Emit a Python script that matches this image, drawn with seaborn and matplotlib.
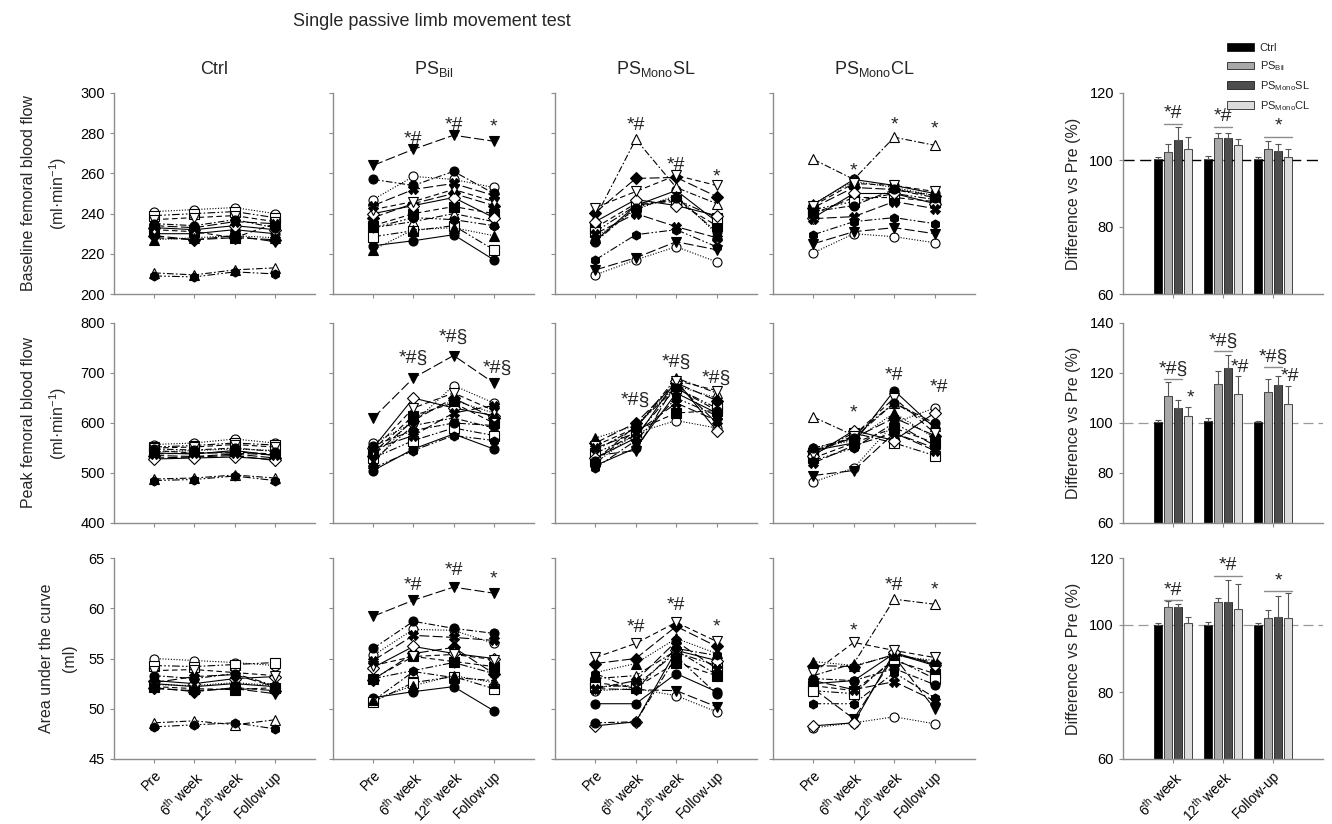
import numpy as np
import pandas as pd
import matplotlib
matplotlib.use("Agg")
import matplotlib.pyplot as plt
import seaborn as sns

# ---------------- data ----------------
timepoints = ["Pre", "6$^{th}$ week", "12$^{th}$ week", "Follow-up"]
bar_times = ["6$^{th}$ week", "12$^{th}$ week", "Follow-up"]
groups = ["Ctrl", "PS$_{Bil}$", "PS$_{Mono}$SL", "PS$_{Mono}$CL"]
row_labels = ["Baseline femoral blood flow\n(ml·min$^{-1}$)",
              "Peak femoral blood flow\n(ml·min$^{-1}$)",
              "Area under the curve\n(ml)"]

# subject values (Pre, 6th, 12th, Follow-up)
ctrl_base = [[230, 230, 232, 230], [241, 242, 243, 240], [228, 227, 229, 226], [210.5, 209.5, 212, 213],
             [232, 231, 228, 235], [239, 240, 241, 238], [229, 227, 228, 227], [233, 232, 234, 232],
             [227, 228, 229, 228], [237, 238, 239, 236], [209, 208.5, 211, 210], [235, 234, 237, 233],
             [234, 233, 236, 235]]
ctrl_peak = [[540, 538, 545, 535], [557, 560, 568, 560], [530, 532, 535, 525], [488, 490, 496, 490],
             [545, 540, 542, 538], [552, 555, 560, 556], [535, 533, 538, 530], [528, 530, 532, 527],
             [542, 545, 548, 545], [550, 552, 557, 552], [485, 487, 494, 485], [548, 546, 550, 543],
             [538, 540, 540, 536]]
ctrl_auc = [[52.5, 52.2, 52.5, 52.2], [55.0, 54.8, 54.6, 54.3], [52.0, 51.8, 52.0, 51.5], [48.6, 48.8, 48.4, 48.9],
            [52.2, 52.0, 51.9, 52.1], [54.3, 54.2, 54.4, 54.6], [52.1, 51.7, 52.1, 51.8], [52.8, 52.5, 53.0, 53.2],
            [52.4, 52.3, 52.6, 52.3], [53.8, 53.9, 53.6, 53.3], [48.2, 48.4, 48.6, 48.0], [53.3, 53.0, 53.5, 52.3],
            [52.6, 53.2, 53.4, 52.2]]

bil_base = [[224, 226.5, 229.5, 217], [247, 258.5, 257, 253], [264, 272, 279, 276], [233, 236, 240, 236],
            [234, 240, 243.5, 240], [228.5, 231.5, 234, 222], [238, 245, 250, 244], [240, 244, 248, 238],
            [222, 232, 233, 229], [242, 246, 252, 246], [233, 238, 237, 234], [257, 254, 261, 250],
            [244, 252, 255, 249]]
bil_peak = [[505, 548, 578, 548], [560, 600, 675, 640], [610, 690, 735, 680], [525, 595, 610, 590],
            [540, 615, 640, 600], [530, 565, 590, 575], [535, 605, 650, 610], [550, 650, 630, 615],
            [520, 610, 645, 620], [545, 630, 660, 625], [510, 545, 575, 565], [555, 585, 600, 595],
            [548, 575, 620, 635]]
bil_auc = [[51.1, 51.7, 52.2, 49.8], [55.3, 57.9, 57.8, 56.5], [59.2, 60.8, 62.1, 61.5], [50.8, 53.7, 53.1, 52.8],
           [53.0, 55.2, 54.7, 54.2], [50.7, 52.6, 53.2, 52.0], [52.9, 55.5, 56.1, 53.5], [54.1, 56.2, 55.5, 55.0],
           [50.9, 52.3, 53.3, 52.6], [54.3, 55.2, 55.4, 54.9], [53.0, 53.8, 54.6, 53.5], [56.0, 58.7, 58.0, 57.5],
           [54.8, 57.3, 57.1, 56.8]]

sl_base = [[226.5, 244, 251.5, 236], [209.5, 217, 223.5, 216], [212, 218, 226, 222], [238, 277, 253, 245],
           [233, 245, 246, 234], [231, 244, 247, 238], [240.5, 257.5, 258, 248.5], [236, 247, 244, 239],
           [228, 242, 249, 230], [243, 251, 259, 254], [217, 229.5, 232, 223.5], [226, 243, 248, 231],
           [230, 240, 233.5, 228]]
sl_peak = [[515, 550, 660, 620], [520, 580, 605, 590], [535, 545, 680, 600], [545, 590, 690, 660],
           [525, 585, 620, 625], [540, 575, 670, 630], [560, 600, 680, 645], [530, 570, 685, 585],
           [570, 595, 675, 650], [555, 590, 685, 665], [510, 565, 650, 615], [525, 595, 670, 625],
           [550, 580, 640, 605]]
sl_auc = [[50.5, 50.5, 53.5, 51.7], [51.8, 52.0, 51.3, 49.7], [52.0, 51.9, 51.8, 50.2], [53.0, 53.3, 55.8, 53.4],
          [52.6, 52.1, 54.6, 53.3], [52.2, 52.3, 55.6, 54.3], [54.5, 55.0, 58.2, 56.2], [48.3, 48.7, 55.8, 54.8],
          [53.6, 54.5, 57.0, 55.5], [55.1, 56.5, 58.6, 56.7], [53.5, 51.9, 56.0, 55.3], [48.6, 48.7, 55.2, 51.5],
          [52.0, 52.8, 56.7, 54.0]]

cl_base = [[244.5, 257, 254, 250], [220.5, 230, 228.5, 225.5], [225, 231, 233, 230], [267, 257, 278, 274],
           [240, 248, 248, 246], [242, 246, 250, 247], [243, 253, 252, 249], [238, 250, 250, 245],
           [245, 256, 253, 249], [244, 255, 254, 251], [229.5, 236, 238, 235], [241, 244, 252, 248],
           [237.5, 238.5, 246, 242.5]]
cl_peak = [[545, 560, 665, 590], [482, 510, 600, 630], [495, 505, 580, 550], [612, 575, 640, 595],
           [530, 560, 590, 560], [540, 580, 560, 535], [545, 570, 610, 575], [535, 585, 565, 620],
           [550, 565, 620, 570], [538, 575, 650, 580], [525, 550, 600, 555], [550, 570, 640, 600],
           [520, 555, 580, 545]]
cl_auc = [[52.5, 52.8, 55.5, 54.3], [48.1, 48.6, 49.2, 48.5], [52.0, 49.0, 55.2, 50.0], [53.3, 54.5, 60.9, 60.4],
          [52.3, 51.8, 54.8, 53.5], [51.8, 51.5, 55.0, 53.0], [54.3, 54.2, 55.4, 54.6], [48.3, 48.6, 55.6, 54.4],
          [54.7, 54.3, 55.3, 54.8], [53.6, 56.6, 55.8, 55.1], [50.5, 50.5, 53.6, 51.1], [53.0, 52.8, 54.0, 52.4],
          [52.8, 51.9, 52.7, 50.8]]

# significance marks on individual panels: (time index, text, value)
sig_base = [[], [(1, "*#", 277), (2, "*#", 284), (3, "*", 283)],
            [(1, "*#", 284), (2, "*#", 264), (3, "*", 258)],
            [(1, "*", 261), (2, "*", 284), (3, "*", 282)]]
sig_peak = [[], [(1, "*#§", 730), (2, "*#§", 772), (3.1, "*#§", 710)],
            [(1, "*#§", 646), (2, "*#§", 722), (3, "*#§", 690)],
            [(1, "*", 620), (2, "*#", 696), (3.1, "*#", 670)]]
sig_auc = [[], [(1, "*#", 62.3), (2, "*#", 63.8), (3, "*", 62.9)],
           [(1, "*#", 58.1), (2, "*#", 60.3), (3, "*", 58.1)],
           [(1, "*", 57.7), (2, "*#", 62.3), (3, "*", 61.8)]]

# bar charts: % difference vs Pre (6th, 12th, Follow-up) per group
bar_base = [[100.3, 100.4, 100.3], [102.5, 106.6, 103.2], [106.0, 106.6, 102.7], [103.3, 104.6, 101.0]]
err_base = [[0.5, 0.8, 0.6], [2.3, 1.4, 2.6], [3.8, 1.4, 2.1], [3.5, 1.6, 2.3]]
bar_peak = [[100.3, 100.7, 100.3], [111.0, 115.8, 112.5], [106.0, 122.0, 115.4], [103.0, 111.7, 107.7]]
err_peak = [[1.0, 1.2, 0.6], [5.3, 5.2, 5.0], [3.2, 5.3, 3.6], [3.5, 7.0, 7.3]]
bar_auc = [[100.0, 100.0, 100.0], [105.3, 107.0, 102.2], [105.5, 106.8, 102.4], [100.5, 104.9, 102.2]]
err_auc = [[0.5, 0.8, 0.7], [2.0, 1.1, 2.2], [0.9, 6.5, 6.2], [1.9, 7.2, 7.3]]

# significance lines on bar charts: (time index, first group, last group, value, text)
barsig_base = [(0, 1, 2, 110.7, "*#"), (1, 1, 2, 109.8, "*#"), (2, 1, 3, 107.0, "*")]
barsig_peak = [(0, 1, 2, 117.7, "*#§"), (1, 1, 2, 128.7, "*#§"), (2, 1, 2, 122.3, "*#§")]
barsig_peak_single = [(0, 3, 106.8, "*"), (1, 3, 119.0, "*#"), (2, 3, 115.3, "*#")]
barsig_auc = [(0, 1, 2, 107.4, "*#"), (1, 1, 3, 114.7, "*#"), (2, 1, 3, 110.2, "*")]

# ---------------- style ----------------
sns.set_theme(style="white")
plt.rcParams["font.family"] = ["Liberation Sans", "DejaVu Sans"]
plt.rcParams["mathtext.default"] = "regular"

LD = (0, (9, 3))
MD = (0, (5, 3))
DD = (0, (6, 2, 1.5, 2))
DDD = (0, (7, 2, 1.5, 2, 1.5, 2))
DOT = (0, (1, 1.5))
styles = [("o", True, "-"), ("o", False, DOT), ("v", True, LD), ("^", False, DD),
          ("s", True, MD), ("s", False, DDD), ("D", True, LD), ("D", False, "-"),
          ("^", True, DOT), ("v", False, MD), ("h", True, DDD), ("o", True, DD),
          ("X", True, LD)]

W, H = 1332, 824
fig = plt.figure(figsize=(W / 100, H / 100), dpi=100)


def px_axes(l, t, r, b):
    return fig.add_axes([l / W, 1 - b / H, (r - l) / W, (b - t) / H])


rows = [(93, 294), (323, 523), (558, 759)]
cols = [(114, 315), (333, 534), (555, 757), (773, 975)]
bar_col = (1123, 1323)
AX_GRAY = "#8c8c8c"

data_rows = [[ctrl_base, bil_base, sl_base, cl_base],
             [ctrl_peak, bil_peak, sl_peak, cl_peak],
             [ctrl_auc, bil_auc, sl_auc, cl_auc]]
sig_rows = [sig_base, sig_peak, sig_auc]
ylims = [(200, 300), (400, 800), (45, 65)]
yticks = [np.arange(200, 301, 20), np.arange(400, 801, 100), np.arange(45, 66, 5)]


def style_axes(ax):
    sns.despine(ax=ax)
    for s in ["left", "bottom"]:
        ax.spines[s].set_color(AX_GRAY)
        ax.spines[s].set_linewidth(1.0)
    ax.tick_params(axis="both", which="both", direction="out", length=3, width=0.8,
                   color=AX_GRAY, labelsize=10.5, labelcolor="black", left=True, bottom=True)
    ax.grid(False)


for r, (top, bot) in enumerate(rows):
    for c, (left, right) in enumerate(cols):
        ax = px_axes(left, top, right, bot)
        subj = data_rows[r][c]
        for i, vals in enumerate(subj):
            mk, filled, ls = styles[i % len(styles)]
            df = pd.DataFrame({"t": np.arange(4), "v": vals})
            sns.lineplot(data=df, x="t", y="v", ax=ax, color="black", marker=mk,
                         markerfacecolor="black" if filled else "white",
                         markeredgecolor="black", markeredgewidth=0.8, markersize=6.5,
                         linestyle=ls, linewidth=0.8, errorbar=None, legend=False)
        for (tx, txt, ty) in sig_rows[r][c]:
            ax.text(tx, ty, txt, ha="center", va="center", fontsize=14)
        ax.set_xlim(-1, 4)
        ax.set_ylim(*ylims[r])
        ax.set_yticks(yticks[r])
        ax.set_xticks(range(4))
        style_axes(ax)
        ax.set_xlabel("")
        ax.set_ylabel("")
        if c == 0:
            ax.set_ylabel(row_labels[r], fontsize=11.5, labelpad=8, linespacing=1.7)
        else:
            ax.set_yticklabels([])
        if r == 2:
            ax.set_xticklabels(timepoints, rotation=45, ha="right", rotation_mode="anchor", fontsize=10)
        else:
            ax.set_xticklabels([])
        if r == 0:
            ax.set_title(groups[c], fontsize=13, pad=14)

# ---------------- bar charts ----------------
palette = {groups[0]: "#000000", groups[1]: "#a8a8a8", groups[2]: "#4d4d4d", groups[3]: "#dcdcdc"}
bar_vals = [bar_base, bar_peak, bar_auc]
bar_errs = [err_base, err_peak, err_auc]
bar_ylims = [(60, 120), (60, 140), (60, 120)]
bar_sigs = [barsig_base, barsig_peak, barsig_auc]
offs = [-0.3, -0.1, 0.1, 0.3]

for r, (top, bot) in enumerate(rows):
    ax = px_axes(bar_col[0], top, bar_col[1], bot)
    recs = []
    for g, gname in enumerate(groups):
        for j, tname in enumerate(bar_times):
            recs.append({"time": tname, "group": gname, "val": bar_vals[r][g][j]})
    bdf = pd.DataFrame(recs)
    ls100 = (0, (8, 4))
    ax.axhline(100, color="black" if r == 0 else "#9a9a9a", lw=1.0 if r == 0 else 0.9,
               ls=ls100, zorder=0.5)
    sns.barplot(data=bdf, x="time", y="val", hue="group", order=bar_times, hue_order=groups,
                palette=palette, saturation=1, width=0.8, gap=0.25, edgecolor="black",
                linewidth=0.5, errorbar=None, ax=ax, legend=(r == 0))
    conts = list(ax.containers)
    for g, cont in enumerate(conts):
        for bar in cont:
            xc = bar.get_x() + bar.get_width() / 2
            j = int(round(xc))
            ax.errorbar(xc, bar.get_height(), yerr=[[0], [bar_errs[r][g][j]]],
                        color="#555555", lw=0.8, capsize=2.5, capthick=0.8, zorder=3)
    for (j, g1, g2, yv, txt) in bar_sigs[r]:
        ax.plot([j + offs[g1] - 0.08, j + offs[g2] + 0.08], [yv, yv], color=AX_GRAY, lw=1.0)
        ax.text(j + (offs[g1] + offs[g2]) / 2, yv + 0.5, txt, ha="center", va="bottom", fontsize=14)
    if r == 1:
        for (j, g, yv, txt) in barsig_peak_single:
            ax.text(j + offs[g] + 0.04, yv, txt, ha="center", va="bottom", fontsize=14)
    ax.set_xlim(-1, 3)
    ax.set_ylim(*bar_ylims[r])
    ax.set_yticks(np.arange(bar_ylims[r][0], bar_ylims[r][1] + 1, 20))
    style_axes(ax)
    ax.set_xlabel("")
    ax.set_ylabel("Difference vs Pre (%)", fontsize=11.5, labelpad=6)
    ax.set_xticks(range(3))
    if r == 2:
        ax.set_xticklabels(bar_times, rotation=45, ha="right", rotation_mode="anchor", fontsize=10)
    else:
        ax.set_xticklabels([])
    if r == 0:
        sns.move_legend(ax, "upper left", bbox_to_anchor=(0.5, 1.27), frameon=False, title=None,
                        fontsize=8, handlelength=2.4, handleheight=0.7, labelspacing=0.55,
                        handletextpad=0.5, borderaxespad=0)

fig.text(432 / W, 1 - 22 / H, "Single passive limb movement test", ha="center", va="center", fontsize=13)

fig.savefig("out.png", dpi=100, facecolor="white")
